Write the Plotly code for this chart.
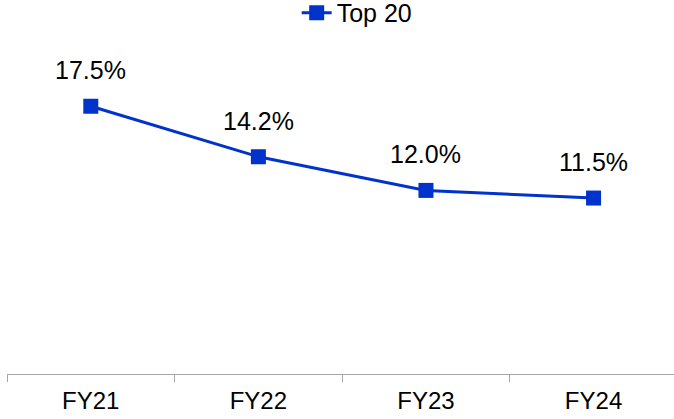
import plotly.graph_objects as go

categories = ["FY21", "FY22", "FY23", "FY24"]
values = [17.5, 14.2, 12.0, 11.5]
labels = ["17.5%", "14.2%", "12.0%", "11.5%"]
series_name = "Top 20"

color = "#0033CC"
font_family = "Liberation Sans, Arial, sans-serif"

fig = go.Figure()
fig.add_trace(go.Scatter(
    x=categories, y=values, name=series_name, mode="lines+markers",
    line=dict(color=color, width=3),
    marker=dict(symbol="square", size=15, color=color),
))

for c, v, t in zip(categories, values, labels):
    fig.add_annotation(x=c, y=v, text=t, showarrow=False, yshift=36,
                       font=dict(size=25, color="#000000", family=font_family))

fig.update_layout(
    width=674, height=419,
    margin=dict(l=7, r=0, t=68, b=45, autoexpand=False),
    paper_bgcolor="white", plot_bgcolor="white",
    font=dict(family=font_family, size=25, color="#000000"),
    showlegend=True,
    legend=dict(orientation="h", x=0.525, xanchor="center", y=1.255, yanchor="top",
                font=dict(size=25), bgcolor="rgba(0,0,0,0)"),
    xaxis=dict(type="category", range=[-0.5, 3.48], showline=True, linecolor="#A6A6A6",
               linewidth=1, ticks="outside", tickson="boundaries", ticklen=7,
               tickcolor="#A6A6A6", showgrid=False, zeroline=False,
               tickfont=dict(size=24), ticklabelstandoff=5),
    yaxis=dict(range=[0, 20], visible=False, showgrid=False, zeroline=False),
)

fig.write_html("out.html")
